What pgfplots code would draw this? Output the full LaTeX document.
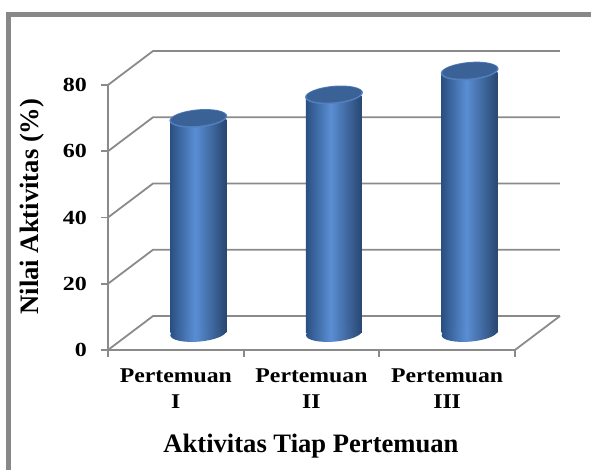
\documentclass[border=0pt]{standalone}
\usepackage{pgfplots}
\usepackage{pgfplotstable}
\pgfplotsset{compat=1.18}
\usepackage{fontspec}
\setmainfont{Liberation Serif}
\newfontfamily\stretchedserif{Liberation Serif}[FakeStretch=1.2]
\newfontfamily\catserif{Liberation Serif}[FakeStretch=1.13]
\definecolor{gridgray}{RGB}{138,138,138}
\definecolor{framegray}{RGB}{136,136,136}
\definecolor{cylL}{RGB}{42,80,130}
\definecolor{cylM}{RGB}{90,142,212}
\definecolor{cylR}{RGB}{40,70,112}
\definecolor{topfill}{RGB}{58,98,150}
\definecolor{toprim}{RGB}{84,128,192}
\pgfdeclarehorizontalshading{cylshade}{100bp}{color(0bp)=(cylL); color(25bp)=(cylL); color(47bp)=(cylM); color(75bp)=(cylR); color(100bp)=(cylR)}
\pgfdeclareplotmark{cyltop}{%
  \pgfpathellipse{\pgfpoint{0pt}{0.8pt}}{\pgfpoint{14.45pt}{1.26pt}}{\pgfpoint{-0.39pt}{4.5pt}}%
  \pgfsetfillcolor{toprim}\pgfusepathqfill
  \pgfpathellipse{\pgfpoint{0pt}{1.0pt}}{\pgfpoint{13.7pt}{1.2pt}}{\pgfpoint{-0.35pt}{3.9pt}}%
  \pgfsetfillcolor{topfill}\pgfusepathqfill}
\pgfdeclareplotmark{cylbot}{%
  \pgfpathellipse{\pgfpoint{0pt}{0pt}}{\pgfpoint{14.0pt}{1.2pt}}{\pgfpoint{-0.39pt}{4.3pt}}%
  \pgfshadepath{cylshade}{0}\pgfusepath{discard}}
\pgfplotstableread{
x y
0.5 64.3
1.5 71.4
2.5 78.6
}\datatable
\begin{document}
\begin{tikzpicture}
\useasboundingbox (0,0) rectangle (295.5pt,235pt);
\begin{scope}
\clip (0,0) rectangle (295.5pt,235pt);
\draw[framegray, line width=2.5pt] (4.25pt,-20pt) rectangle (320pt,227.75pt);
\end{scope}
\begin{axis}[
  at={(54pt,60pt)}, anchor=south west,
  scale only axis, width=226pt, height=149.5pt,
  xmin=-0.166, xmax=3.166, ymin=-5.13, ymax=85.13,
  axis line style={draw=none},
  clip=false,
  xtick={-0.166,0.834,1.834,2.834}, xticklabels={,,,},
  extra x ticks={0.334,1.334,2.334},
  extra x tick labels={Pertemuan\\I,Pertemuan\\II,Pertemuan\\III},
  extra x tick style={major tick length=0pt, tick label style={align=center, font=\fontsize{10.5}{13}\selectfont\catserif\bfseries, yshift=-6pt}},
  ytick={-5.13,14.87,34.87,54.87,74.87}, yticklabels={0,20,40,60,80},
  yticklabel style={font=\fontsize{10}{12}\selectfont\stretchedserif\bfseries, xshift=-3.5pt},
  xtick pos=left, ytick pos=left,
  tick align=outside, major tick length=3.5pt,
  tick style={gridgray, line width=0.9pt},
  xlabel={Aktivitas Tiap Pertemuan},
  xlabel style={at={(axis description cs:0.449,-0.32)}, anchor=center, font=\fontsize{13.3}{15}\selectfont\bfseries},
  ylabel={Nilai Aktivitas (\%)},
  ylabel style={at={(axis description cs:-0.168,0.48)}, anchor=center, font=\fontsize{13.3}{15}\selectfont\bfseries},
]
% back wall gridlines with left-wall diagonals
\addplot[gridgray, line width=0.9pt] coordinates {(-0.166,-5.13) (0.166,5.13) (3.166,5.13)};
\addplot[gridgray, line width=0.9pt] coordinates {(-0.166,14.87) (0.166,25.13) (3.166,25.13)};
\addplot[gridgray, line width=0.9pt] coordinates {(-0.166,34.87) (0.166,45.13) (3.166,45.13)};
\addplot[gridgray, line width=0.9pt] coordinates {(-0.166,54.87) (0.166,65.13) (3.166,65.13)};
\addplot[gridgray, line width=0.9pt] coordinates {(-0.166,74.87) (0.166,85.13) (3.166,85.13)};
% front axis and floor edge
\addplot[gridgray, line width=0.9pt] coordinates {(-0.166,74.87) (-0.166,-5.13) (2.834,-5.13) (3.166,5.13)};
% cylinders: bottom caps, bodies (one per bar for its own shading), top caps
\addplot[only marks, mark=cylbot] table[x=x, y expr=0] {\datatable};
\addplot[ybar, bar width=28pt, bar shift=0pt, draw=none, shade, shading=cylshade, skip coords between index={1}{3}] table[x=x, y=y] {\datatable};
\addplot[ybar, bar width=28pt, bar shift=0pt, draw=none, shade, shading=cylshade, skip coords between index={0}{1}, skip coords between index={2}{3}] table[x=x, y=y] {\datatable};
\addplot[ybar, bar width=28pt, bar shift=0pt, draw=none, shade, shading=cylshade, skip coords between index={0}{2}] table[x=x, y=y] {\datatable};
\addplot[only marks, mark=cyltop] table[x=x, y=y] {\datatable};
\end{axis}
\end{tikzpicture}
\end{document}
